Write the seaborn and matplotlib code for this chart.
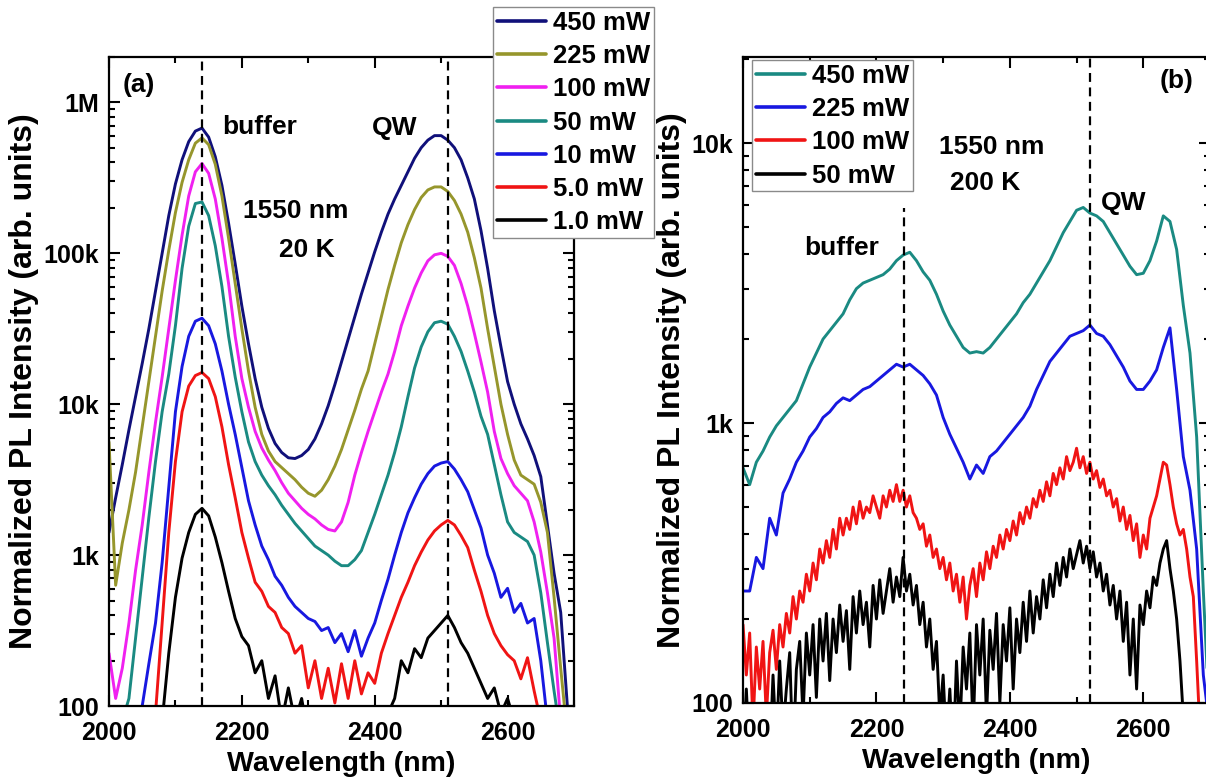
import numpy as np
import pandas as pd
import matplotlib
matplotlib.use("Agg")
import matplotlib.pyplot as plt
import seaborn as sns
from matplotlib.lines import Line2D
from matplotlib.ticker import FixedLocator, FixedFormatter, MultipleLocator, LogLocator, NullFormatter

# ---------------- data (log10 of normalized PL intensity) ----------------
wl_a = np.arange(2000, 2701, 10)

log_a_450 = [3.15, 3.38, 3.60, 3.83, 4.05, 4.27, 4.50, 4.75, 5.00, 5.25,
             5.46, 5.62, 5.74, 5.81, 5.83, 5.77, 5.64, 5.45, 5.20, 4.93,
             4.65, 4.40, 4.17, 3.98, 3.84, 3.74, 3.68, 3.645, 3.64, 3.66,
             3.70, 3.77, 3.87, 3.99, 4.13, 4.28, 4.43, 4.58, 4.73, 4.87,
             5.01, 5.14, 5.26, 5.36, 5.45, 5.54, 5.63, 5.70, 5.75, 5.78,
             5.78, 5.75, 5.70, 5.62, 5.50, 5.36, 5.15, 4.90, 4.62, 4.38,
             4.15, 4.00, 3.87, 3.77, 3.66, 3.52, 3.20, 2.88, 2.62, 2.00,
             1.80]
log_a_225 = [3.75, 2.80, 3.08, 3.30, 3.55, 3.85, 4.15, 4.45, 4.75, 5.02,
             5.27, 5.47, 5.62, 5.73, 5.765, 5.72, 5.59, 5.38, 5.10, 4.80,
             4.50, 4.22, 3.98, 3.80, 3.69, 3.62, 3.58, 3.54, 3.50, 3.45,
             3.41, 3.39, 3.43, 3.50, 3.59, 3.70, 3.83, 3.96, 4.10, 4.22,
             4.40, 4.58, 4.76, 4.92, 5.07, 5.19, 5.29, 5.37, 5.42, 5.44,
             5.44, 5.41, 5.35, 5.26, 5.14, 4.97, 4.77, 4.50, 4.25, 4.00,
             3.80, 3.63, 3.53, 3.50, 3.47, 3.35, 3.15, 2.72, 2.25, 1.80,
             1.80]
log_a_100 = [2.35, 2.05, 2.25, 2.55, 2.90, 3.20, 3.55, 3.88, 4.18, 4.50,
             4.82, 5.12, 5.38, 5.54, 5.595, 5.53, 5.36, 5.10, 4.80, 4.45,
             4.17, 3.98, 3.82, 3.71, 3.63, 3.56, 3.48, 3.41, 3.36, 3.31,
             3.27, 3.24, 3.20, 3.17, 3.16, 3.22, 3.35, 3.53, 3.68, 3.82,
             3.95, 4.08, 4.20, 4.35, 4.52, 4.65, 4.77, 4.87, 4.95, 4.99,
             5.00, 4.98, 4.92, 4.80, 4.65, 4.47, 4.28, 4.08, 3.82, 3.64,
             3.54, 3.46, 3.41, 3.36, 3.22, 3.02, 2.75, 2.45, 1.90, 1.80,
             1.80]
log_a_50 = [1.80, 1.95, 1.90, 2.05, 2.45, 2.85, 3.25, 3.62, 3.95, 4.20,
            4.52, 4.90, 5.18, 5.33, 5.34, 5.25, 5.05, 4.78, 4.45, 4.18,
            3.95, 3.75, 3.62, 3.53, 3.46, 3.40, 3.33, 3.27, 3.21, 3.16,
            3.11, 3.06, 3.03, 3.00, 2.96, 2.93, 2.93, 2.97, 3.03, 3.15,
            3.27, 3.40, 3.53, 3.68, 3.85, 4.05, 4.24, 4.38, 4.48, 4.54,
            4.55, 4.53, 4.45, 4.35, 4.22, 4.08, 3.92, 3.80, 3.60, 3.40,
            3.22, 3.15, 3.12, 3.09, 3.00, 2.75, 2.42, 2.10, 1.80, 1.80,
            1.80]
log_a_10 = [1.80, 1.80, 1.80, 1.80, 1.85, 2.00, 2.28, 2.55, 2.95, 3.45,
            3.95, 4.25, 4.45, 4.55, 4.57, 4.52, 4.40, 4.22, 4.00, 3.80,
            3.58, 3.36, 3.20, 3.06, 2.97, 2.86, 2.80, 2.72, 2.66, 2.62,
            2.58, 2.56, 2.50, 2.52, 2.42, 2.48, 2.36, 2.50, 2.33, 2.45,
            2.55, 2.70, 2.84, 3.00, 3.15, 3.28, 3.38, 3.47, 3.54, 3.59,
            3.61, 3.62, 3.57, 3.50, 3.42, 3.30, 3.18, 3.00, 2.88, 2.72,
            2.78, 2.62, 2.68, 2.55, 2.58, 2.30, 1.90, 1.80, 1.80, 1.80,
            1.80]
log_a_5 = [1.80, 1.80, 1.80, 1.80, 1.80, 1.80, 1.80, 1.95, 2.55, 3.15,
           3.62, 3.95, 4.12, 4.19, 4.21, 4.17, 4.05, 3.85, 3.60, 3.38,
           3.15, 2.98, 2.82, 2.76, 2.66, 2.62, 2.52, 2.48, 2.35, 2.40,
           2.12, 2.30, 2.05, 2.25, 2.02, 2.28, 2.05, 2.30, 2.08, 2.22,
           2.15, 2.35, 2.48, 2.60, 2.72, 2.82, 2.93, 3.02, 3.10, 3.16,
           3.20, 3.23, 3.20, 3.13, 3.05, 2.90, 2.76, 2.60, 2.48, 2.40,
           2.34, 2.30, 2.18, 2.32, 2.10, 1.90, 1.80, 1.80, 1.80, 1.80,
           1.80]
log_a_1 = [1.80, 1.80, 1.80, 1.80, 1.80, 1.80, 1.80, 1.80, 1.90, 2.35,
           2.72, 2.98, 3.15, 3.27, 3.31, 3.26, 3.12, 2.95, 2.76, 2.58,
           2.46, 2.40, 2.22, 2.30, 2.05, 2.20, 1.90, 2.12, 1.90, 2.05,
           1.80, 1.90, 1.80, 1.80, 1.95, 1.80, 1.80, 1.90, 1.80, 1.80,
           1.85, 1.80, 1.95, 2.05, 2.30, 2.22, 2.38, 2.32, 2.45, 2.50,
           2.55, 2.60, 2.52, 2.42, 2.35, 2.25, 2.15, 2.05, 2.12, 1.95,
           2.05, 1.90, 1.80, 1.80, 1.80, 1.80, 1.80, 1.80, 1.80, 1.80,
           1.80]

wl_b = np.arange(2000, 2701, 10)
wl_b_fine = np.arange(2000, 2701, 5)

log_b_450 = [2.84, 2.78, 2.86, 2.90, 2.95, 2.99, 3.02, 3.05, 3.08, 3.14,
             3.20, 3.25, 3.30, 3.33, 3.36, 3.39, 3.44, 3.48, 3.50, 3.51,
             3.52, 3.53, 3.55, 3.58, 3.60, 3.61, 3.58, 3.54, 3.51, 3.46,
             3.40, 3.35, 3.31, 3.27, 3.25, 3.255, 3.25, 3.27, 3.30, 3.33,
             3.36, 3.39, 3.43, 3.46, 3.50, 3.54, 3.58, 3.63, 3.68, 3.72,
             3.76, 3.77, 3.75, 3.74, 3.72, 3.68, 3.64, 3.60, 3.56, 3.53,
             3.535, 3.58, 3.65, 3.74, 3.72, 3.62, 3.42, 3.25, 2.95, 2.40,
             1.90]
log_b_225 = [2.40, 2.40, 2.52, 2.48, 2.66, 2.60, 2.75, 2.80, 2.86, 2.90,
             2.95, 2.98, 3.02, 3.04, 3.07, 3.09, 3.08, 3.10, 3.12, 3.13,
             3.15, 3.17, 3.19, 3.21, 3.20, 3.21, 3.19, 3.17, 3.14, 3.10,
             3.02, 2.96, 2.91, 2.86, 2.80, 2.85, 2.82, 2.88, 2.90, 2.93,
             2.96, 2.99, 3.02, 3.06, 3.12, 3.17, 3.22, 3.25, 3.28, 3.31,
             3.32, 3.33, 3.35, 3.32, 3.31, 3.28, 3.24, 3.20, 3.15, 3.12,
             3.12, 3.15, 3.19, 3.27, 3.34, 3.12, 2.88, 2.76, 2.55, 2.10,
             1.90]
log_b_100 = [2.28, 2.10, 2.25, 1.92, 2.20, 2.05, 2.22, 1.95, 2.18, 2.26,
             2.12, 2.28, 2.20, 2.32, 2.25, 2.38, 2.30, 2.40, 2.36, 2.46,
             2.40, 2.50, 2.44, 2.55, 2.50, 2.58, 2.52, 2.62, 2.55, 2.66,
             2.60, 2.66, 2.62, 2.70, 2.64, 2.72, 2.66, 2.70, 2.68, 2.74,
             2.70, 2.66, 2.74, 2.70, 2.76, 2.72, 2.78, 2.72, 2.76, 2.70,
             2.74, 2.68, 2.66, 2.62, 2.64, 2.56, 2.60, 2.52, 2.55, 2.48,
             2.52, 2.44, 2.50, 2.40, 2.46, 2.36, 2.45, 2.30, 2.42, 2.48,
             2.38, 2.50, 2.44, 2.54, 2.48, 2.56, 2.52, 2.60, 2.55, 2.62,
             2.58, 2.65, 2.60, 2.68, 2.64, 2.70, 2.66, 2.73, 2.70, 2.76,
             2.72, 2.79, 2.74, 2.82, 2.78, 2.84, 2.80, 2.88, 2.83, 2.86,
             2.91, 2.84, 2.88, 2.82, 2.86, 2.80, 2.83, 2.77, 2.80, 2.74,
             2.76, 2.70, 2.73, 2.65, 2.70, 2.62, 2.67, 2.58, 2.64, 2.52,
             2.60, 2.55, 2.66, 2.70, 2.74, 2.80, 2.86, 2.85, 2.78, 2.70,
             2.64, 2.60, 2.62, 2.55, 2.45, 2.38, 2.15, 1.90, 1.80, 1.80,
             1.80]
log_b_50 = [1.80, 2.05, 1.80, 1.80, 1.90, 1.80, 1.80, 1.95, 1.80, 2.10,
            1.85, 2.15, 1.90, 2.05, 2.18, 1.80, 2.12, 2.22, 1.95, 2.25,
            2.10, 2.28, 2.02, 2.30, 2.15, 2.32, 2.08, 2.30, 2.18, 2.35,
            2.22, 2.33, 2.12, 2.38, 2.25, 2.40, 2.28, 2.36, 2.20, 2.42,
            2.30, 2.44, 2.32, 2.40, 2.48, 2.36, 2.45, 2.38, 2.52, 2.40,
            2.46, 2.35, 2.42, 2.28, 2.36, 2.20, 2.30, 2.12, 2.22, 1.95,
            2.10, 1.85, 2.05, 1.80, 2.15, 1.90, 2.20, 2.05, 2.25, 1.90,
            2.28, 2.10, 2.30, 1.95, 2.26, 2.12, 2.32, 2.00, 2.28, 2.15,
            2.34, 2.05, 2.30, 2.18, 2.36, 2.22, 2.40, 2.25, 2.38, 2.30,
            2.44, 2.34, 2.46, 2.38, 2.50, 2.42, 2.52, 2.45, 2.55, 2.48,
            2.53, 2.58, 2.50, 2.56, 2.48, 2.54, 2.45, 2.50, 2.40, 2.46,
            2.35, 2.42, 2.30, 2.40, 2.22, 2.36, 2.10, 2.30, 2.05, 2.35,
            2.28, 2.40, 2.34, 2.45, 2.42, 2.50, 2.55, 2.58, 2.48, 2.40,
            2.30, 2.15, 1.95, 1.80, 1.80, 1.80, 1.80, 1.80, 1.80, 1.80,
            1.80]

labels_a = ["450 mW", "225 mW", "100 mW", "50 mW", "10 mW", "5.0 mW", "1.0 mW"]
colors_a = ["#10107a", "#96962c", "#f020f0", "#1a8a82", "#1818e0", "#f01414", "#000000"]
labels_b = ["450 mW", "225 mW", "100 mW", "50 mW"]
colors_b = ["#1a8a82", "#1818e0", "#f01414", "#000000"]

ytick_vals = [1e2, 1e3, 1e4, 1e5, 1e6]
ytick_labels = ["100", "1k", "10k", "100k", "1M"]
xtick_vals = [2000, 2200, 2400, 2600]

peaks_a = [2140, 2511]          # dashed markers, panel a
peaks_b = [2241, 2520]          # dashed markers, panel b
peak_b_buffer_top = 5860        # where the buffer marker starts in panel b

# ---------------- build long-form frames ----------------
frames = []
for lab, vals in zip(labels_a, [log_a_450, log_a_225, log_a_100, log_a_50, log_a_10, log_a_5, log_a_1]):
    frames.append(pd.DataFrame({"wavelength": wl_a, "intensity": 10 ** np.asarray(vals), "power": lab}))
df_a = pd.concat(frames, ignore_index=True)

frames = []
for lab, wl, vals in zip(labels_b, [wl_b, wl_b, wl_b_fine, wl_b_fine],
                         [log_b_450, log_b_225, log_b_100, log_b_50]):
    frames.append(pd.DataFrame({"wavelength": wl, "intensity": 10 ** np.asarray(vals), "power": lab}))
df_b = pd.concat(frames, ignore_index=True)

# ---------------- style ----------------
sns.set_theme(style="ticks")
plt.rcParams['font.family'] = ['Liberation Sans', 'DejaVu Sans']
plt.rcParams['font.weight'] = 'bold'
plt.rcParams['axes.labelweight'] = 'bold'
plt.rcParams['text.color'] = 'black'
plt.rcParams['axes.labelcolor'] = 'black'
plt.rcParams['xtick.color'] = 'black'
plt.rcParams['ytick.color'] = 'black'

fig = plt.figure(figsize=(12.06, 7.82), dpi=100)
ax_a = fig.add_axes([109 / 1206, 76 / 782, 465 / 1206, 649 / 782])
ax_b = fig.add_axes([743 / 1206, 79 / 782, 467 / 1206, 646 / 782])

TICK_FS = 18
XLABEL_FS = 20.5
YLABEL_FS = 23
ANN_FS = 19
LEG_FS = 18.5
dash = (0, (4, 2.5))

def style_axes(ax, ylim):
    ax.set_yscale("log")
    ax.set_xlim(2000, 2700)
    ax.set_ylim(*ylim)
    ax.xaxis.set_major_locator(FixedLocator(xtick_vals))
    ax.xaxis.set_minor_locator(MultipleLocator(100))
    ax.yaxis.set_major_locator(FixedLocator(ytick_vals))
    ax.yaxis.set_major_formatter(FixedFormatter(ytick_labels))
    ax.yaxis.set_minor_locator(LogLocator(base=10, subs=np.arange(2, 10)))
    ax.yaxis.set_minor_formatter(NullFormatter())
    ax.tick_params(which="both", direction="in", top=True, right=True, width=1.5,
                   colors="black", labelcolor="black")
    ax.tick_params(which="major", length=8, labelsize=TICK_FS)
    ax.tick_params(axis="x", which="major", pad=11)
    ax.tick_params(axis="y", which="major", pad=7)
    ax.tick_params(which="minor", length=4)
    for lab in ax.get_xticklabels() + ax.get_yticklabels():
        lab.set_fontweight("bold")
    for sp in ax.spines.values():
        sp.set_linewidth(1.6)
        sp.set_color("black")
    ax.set_xlabel("Wavelength (nm)", fontsize=XLABEL_FS, fontweight="bold", labelpad=4, color="black")
    ax.set_ylabel("Normalized PL Intensity (arb. units)", fontsize=YLABEL_FS, fontweight="bold",
                  labelpad=3, color="black")
    ax.grid(False)

# ---------------- panel a ----------------
sns.lineplot(data=df_a, x="wavelength", y="intensity", hue="power", hue_order=labels_a,
             palette=colors_a, linewidth=2.1, estimator=None, legend=False, ax=ax_a)
style_axes(ax_a, (100, 2e6))
for p in peaks_a:
    ax_a.axvline(p, color="black", linestyle=dash, linewidth=1.6, zorder=5)

handles_a = [Line2D([], [], color=c, linewidth=2.6) for c in colors_a]
leg_a = ax_a.legend(handles_a, labels_a, loc="upper left", bbox_to_anchor=(493 / 1206, 1 - 7 / 782),
                    bbox_transform=fig.transFigure, fontsize=LEG_FS, frameon=True, fancybox=False,
                    edgecolor="#8a8a8a", framealpha=1, borderpad=0.15, borderaxespad=0,
                    handlelength=1.9, handletextpad=0.3, labelspacing=0.36)
leg_a.get_frame().set_linewidth(1.0)
for t in leg_a.get_texts():
    t.set_fontweight("bold")
    t.set_color("black")

ax_a.text(0.0645, 0.957, "(a)", transform=ax_a.transAxes, ha="center", va="center", fontsize=ANN_FS, fontweight="bold")
ax_a.text(0.325, 0.892, "buffer", transform=ax_a.transAxes, ha="center", va="center", fontsize=ANN_FS, fontweight="bold")
ax_a.text(0.615, 0.891, "QW", transform=ax_a.transAxes, ha="center", va="center", fontsize=ANN_FS, fontweight="bold")
ax_a.text(0.402, 0.763, "1550 nm", transform=ax_a.transAxes, ha="center", va="center", fontsize=ANN_FS, fontweight="bold")
ax_a.text(0.426, 0.703, "20 K", transform=ax_a.transAxes, ha="center", va="center", fontsize=ANN_FS, fontweight="bold")

# ---------------- panel b ----------------
sns.lineplot(data=df_b, x="wavelength", y="intensity", hue="power", hue_order=labels_b,
             palette=colors_b, linewidth=2.1, estimator=None, legend=False, ax=ax_b)
style_axes(ax_b, (100, 2.03e4))
ax_b.vlines(peaks_b[0], 100, peak_b_buffer_top, color="black", linestyle=dash, linewidth=1.6, zorder=5)
ax_b.axvline(peaks_b[1], color="black", linestyle=dash, linewidth=1.6, zorder=5)

handles_b = [Line2D([], [], color=c, linewidth=2.6) for c in colors_b]
leg_b = ax_b.legend(handles_b, labels_b, loc="upper left", bbox_to_anchor=(752 / 1206, 1 - 60 / 782),
                    bbox_transform=fig.transFigure, fontsize=LEG_FS, frameon=True, fancybox=False,
                    edgecolor="#8a8a8a", framealpha=1, borderpad=0.15, borderaxespad=0,
                    handlelength=1.9, handletextpad=0.3, labelspacing=0.36)
leg_b.get_frame().set_linewidth(1.0)
for t in leg_b.get_texts():
    t.set_fontweight("bold")
    t.set_color("black")

ax_b.text(0.929, 0.963, "(b)", transform=ax_b.transAxes, ha="center", va="center", fontsize=ANN_FS, fontweight="bold")
ax_b.text(0.533, 0.861, "1550 nm", transform=ax_b.transAxes, ha="center", va="center", fontsize=ANN_FS, fontweight="bold")
ax_b.text(0.518, 0.805, "200 K", transform=ax_b.transAxes, ha="center", va="center", fontsize=ANN_FS, fontweight="bold")
ax_b.text(0.816, 0.774, "QW", transform=ax_b.transAxes, ha="center", va="center", fontsize=ANN_FS, fontweight="bold")
ax_b.text(0.212, 0.704, "buffer", transform=ax_b.transAxes, ha="center", va="center", fontsize=ANN_FS, fontweight="bold")

fig.savefig("out.png", dpi=100)
